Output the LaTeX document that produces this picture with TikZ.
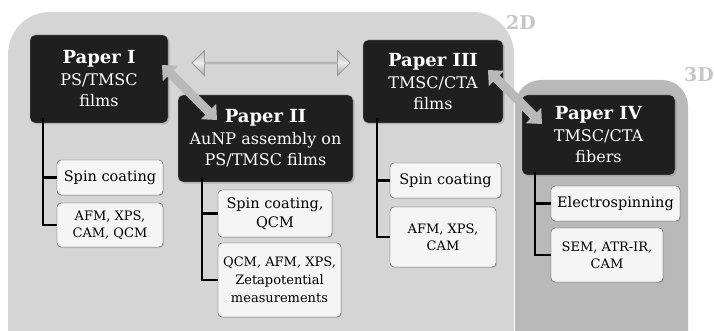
\documentclass[tikz,border=0pt]{standalone}
\usepackage{fontspec}
\setmainfont{DejaVu Serif}
\usetikzlibrary{shapes.arrows,shadows,arrows.meta}

\begin{document}
\begin{tikzpicture}[x=1pt,y=-1pt,
  paper/.style={draw=gray!60, fill=black!88, text=white, rounded corners=5pt,
    align=center, inner sep=0pt, font=\fontsize{16}{21}\selectfont,
    drop shadow={opacity=0.35,shadow xshift=1.5pt,shadow yshift=-1.5pt}},
  method/.style={draw=black!70, fill=gray!8, rounded corners=4pt, align=center,
    inner sep=0pt, drop shadow={opacity=0.25,shadow xshift=1pt,shadow yshift=-1pt}},
  branch/.style={line width=2.2pt, black},
  swap/.style={line width=9pt, gray!55, {Triangle[width=21pt,length=12pt]}-{Triangle[width=21pt,length=12pt]}},
  dimlabel/.style={text=gray!45, font=\bfseries\fontsize{19}{19}\selectfont}]
  \clip (0,0) rectangle (714,331);
  % panels
  \fill[gray!33, rounded corners=42pt] (8,12) rectangle (514,370);
  \fill[gray!55, rounded corners=26pt] (515,80) rectangle (688,370);
  \node[dimlabel] (lab2d) at (521,22) {2D};
  \node[dimlabel] (lab3d) at (699,75) {3D};
  % papers
  \node[paper, minimum width=138pt, minimum height=88pt] (p1) at (99,79)
    {\textbf{\fontsize{18}{21}\selectfont Paper I}\\[1pt]PS/TMSC\\films};
  \node[paper, minimum width=175pt, minimum height=87pt] (p2) at (265.5,138.5)
    {\textbf{\fontsize{18}{21}\selectfont Paper II}\\[1pt]AuNP assembly on\\PS/TMSC films};
  \node[paper, minimum width=140pt, minimum height=83pt] (p3) at (433,81.5)
    {\textbf{\fontsize{18}{21}\selectfont Paper III}\\[1pt]TMSC/CTA\\films};
  \node[paper, minimum width=153pt, minimum height=80pt] (p4) at (598.5,135)
    {\textbf{\fontsize{18}{21}\selectfont Paper IV}\\[1pt]TMSC/CTA\\fibers};
  % methods
  \node[method, minimum width=106pt, minimum height=35pt, font=\fontsize{14.5}{19}\selectfont] (m1a) at (110,177.5) {Spin coating};
  \node[method, minimum width=106pt, minimum height=44pt, font=\fontsize{13}{17}\selectfont] (m1b) at (110,225) {AFM, XPS,\\CAM, QCM};
  \node[method, minimum width=114pt, minimum height=47pt, font=\fontsize{14.5}{19}\selectfont] (m2a) at (275,213.5) {Spin coating,\\QCM};
  \node[method, minimum width=123pt, minimum height=74pt, font=\fontsize{13}{18}\selectfont] (m2b) at (279.5,280) {QCM, AFM, XPS,\\Zetapotential\\measurements};
  \node[method, minimum width=111pt, minimum height=35pt, font=\fontsize{14.5}{19}\selectfont] (m3a) at (445.5,180.5) {Spin coating};
  \node[method, minimum width=106pt, minimum height=60pt, font=\fontsize{13}{17}\selectfont] (m3b) at (443,237) {AFM, XPS,\\CAM};
  \node[method, minimum width=129pt, minimum height=35pt, font=\fontsize{14.5}{19}\selectfont] (m4a) at (615.5,203.5) {Electrospinning};
  \node[method, minimum width=112pt, minimum height=54pt, font=\fontsize{13}{17}\selectfont] (m4b) at (607,255) {SEM, ATR-IR,\\CAM};
  % trees
  \coordinate (t1) at (43,118);
  \coordinate (t2) at (202,178);
  \coordinate (t3) at (377,118);
  \coordinate (t4) at (535,172);
  \foreach \t/\a/\b in {t1/m1a/m1b, t2/m2a/m2b, t3/m3a/m3b, t4/m4a/m4b}{
    \draw[branch] (\t) |- (\a);
    \draw[branch] (\t) |- (\b);
  }
  % links between papers
  \node[double arrow, draw=gray!80, line width=0.8pt, top color=gray!55, bottom color=gray!70, middle color=gray!15,
    inner sep=0pt, minimum width=25pt, minimum height=158pt, double arrow head extend=6pt] (link13) at (271,63) {};
  \coordinate (a1) at (162,65);
  \coordinate (a2) at (217,120);
  \coordinate (a3) at (488,70);
  \coordinate (a4) at (542,124);
  \draw[swap] (a1) -- (a2);
  \draw[swap] (a3) -- (a4);
\end{tikzpicture}
\end{document}
